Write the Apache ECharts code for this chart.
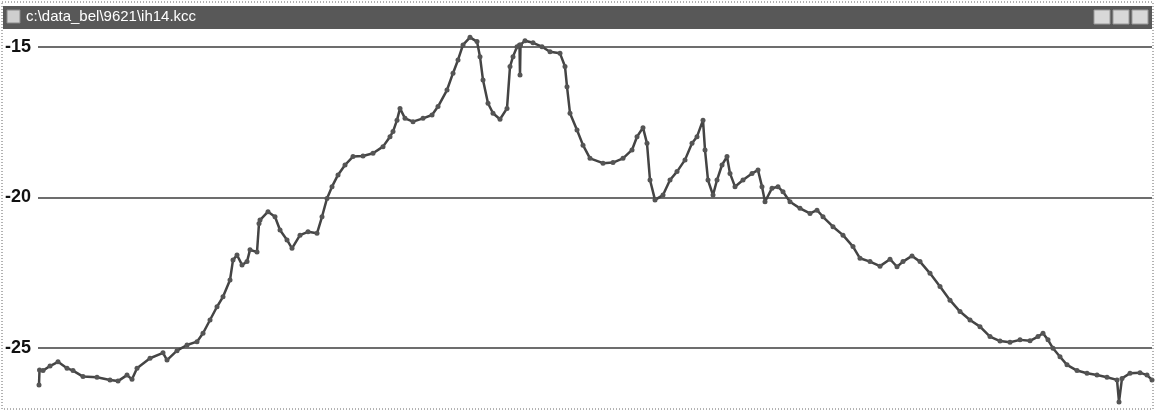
<!DOCTYPE html>
<html>
<head>
<meta charset="utf-8">
<script src="https://cdn.jsdelivr.net/npm/echarts@6/dist/echarts.min.js"></script>
<style>
  html, body { margin: 0; padding: 0; background: #fff; }
  #main { width: 1156px; height: 412px; }
</style>
</head>
<body>
<div id="main"></div>
<script>
// window caption and y tick labels
const windowTitle = 'c:\\data_bel\\9621\\ih14.kcc';
const yTicks = [-15, -20, -25];

// position along the profile (arbitrary units) and measured value
const pos = [
  1, 1.5, 5, 12, 20, 29, 35, 45, 59, 72, 80, 89, 94, 99, 112, 125, 129, 139, 149, 159,
  165, 172, 179, 185, 192, 195, 199, 204, 209, 212, 219, 221, 222, 230, 237, 242, 249, 254, 262, 270,
  279, 284, 289, 294, 300, 307, 315, 325, 335, 345, 352, 355, 359, 362, 367, 375, 385, 394, 400, 409,
  415, 420, 425, 432, 439, 442, 445, 450, 455, 462, 469, 472, 475, 479, 481.5, 482, 482.5, 487, 495, 504,
  512, 522, 527, 529, 532, 539, 545, 552, 565, 575, 585, 594, 599, 605, 609, 612, 617, 625, 632, 639,
  647, 654, 659, 665, 667, 670, 675, 679, 684, 689, 692, 697, 705, 714, 720, 724, 727, 734, 740, 745,
  752, 762, 772, 779, 785, 795, 805, 815, 822, 832, 842, 852, 859, 865, 874, 882, 892, 902, 912, 922,
  932, 942, 952, 962, 972, 982, 992, 1000, 1005, 1010, 1015, 1022, 1029, 1039, 1049, 1059, 1069, 1079, 1081, 1084,
  1092, 1102, 1109, 1114
];
const level = [
  -26.23, -25.73, -25.75, -25.60, -25.46, -25.67, -25.75, -25.95, -25.97, -26.06, -26.10, -25.90, -26.04, -25.67, -25.34, -25.16, -25.40, -25.09, -24.90, -24.79,
  -24.51, -24.07, -23.63, -23.30, -22.74, -22.08, -21.91, -22.24, -22.13, -21.74, -21.81, -20.86, -20.75, -20.47, -20.64, -21.08, -21.41, -21.69, -21.25, -21.14,
  -21.19, -20.64, -20.03, -19.64, -19.25, -18.92, -18.64, -18.62, -18.53, -18.31, -17.98, -17.81, -17.43, -17.04, -17.37, -17.48, -17.37, -17.26, -16.98, -16.43,
  -15.87, -15.43, -14.93, -14.68, -14.82, -15.32, -16.10, -16.87, -17.20, -17.40, -17.04, -15.65, -15.32, -14.99, -14.93, -15.93, -14.93, -14.79, -14.86, -14.99,
  -15.16, -15.21, -15.65, -16.32, -17.20, -17.76, -18.26, -18.70, -18.86, -18.84, -18.70, -18.42, -17.98, -17.68, -18.20, -19.42, -20.08, -19.92, -19.42, -19.14,
  -18.75, -18.20, -17.98, -17.43, -18.42, -19.42, -19.92, -19.42, -18.92, -18.64, -19.20, -19.64, -19.42, -19.20, -19.09, -19.64, -20.14, -19.69, -19.64, -19.81,
  -20.14, -20.36, -20.53, -20.42, -20.64, -20.97, -21.25, -21.63, -22.02, -22.13, -22.28, -22.05, -22.30, -22.13, -21.94, -22.13, -22.52, -22.96, -23.41, -23.79,
  -24.07, -24.29, -24.62, -24.77, -24.81, -24.73, -24.76, -24.62, -24.51, -24.73, -25.01, -25.29, -25.56, -25.75, -25.84, -25.90, -25.97, -26.06, -26.79, -26.01,
  -25.84, -25.82, -25.90, -26.06
];

const chart = echarts.init(document.getElementById('main'));
const option = {
  backgroundColor: '#fff',
  animation: false,
  grid: { left: 38, right: 4, top: 47, bottom: 64 },
  xAxis: {
    type: 'value',
    min: 0,
    max: 1114,
    show: false
  },
  yAxis: {
    type: 'value',
    min: yTicks[2],
    max: yTicks[0],
    interval: 5,
    axisLine: { show: false },
    axisTick: { show: false },
    axisLabel: {
      margin: 7,
      color: '#111',
      fontFamily: 'Liberation Sans Narrow, Liberation Sans',
      fontSize: 18,
      fontWeight: 'bold'
    },
    splitLine: { lineStyle: { color: '#3c3c3c', width: 1.5 } }
  },
  graphic: [
    // dotted window frame
    { type: 'rect', shape: { x: 2, y: 2, width: 1151, height: 407 },
      style: { fill: 'none', stroke: '#666', lineWidth: 1, lineDash: [1, 2] }, z: 10 },
    // caption bar
    { type: 'rect', shape: { x: 3, y: 6, width: 1149, height: 23 },
      style: { fill: '#585858' }, z: 5 },
    { type: 'rect', shape: { x: 7, y: 10, width: 13, height: 13 },
      style: { fill: '#cfcfcf', stroke: '#888', lineWidth: 1 }, z: 6 },
    { type: 'text', x: 26, y: 9,
      style: { text: windowTitle, fill: '#fff', font: '15px "Liberation Sans"' }, z: 6 },
    { type: 'rect', shape: { x: 1094, y: 10, width: 16, height: 14 },
      style: { fill: '#d8d8d8', stroke: '#999', lineWidth: 1 }, z: 6 },
    { type: 'rect', shape: { x: 1113, y: 10, width: 16, height: 14 },
      style: { fill: '#d8d8d8', stroke: '#999', lineWidth: 1 }, z: 6 },
    { type: 'rect', shape: { x: 1132, y: 10, width: 16, height: 14 },
      style: { fill: '#d8d8d8', stroke: '#999', lineWidth: 1 }, z: 6 }
  ],
  series: [
    {
      type: 'line',
      clip: false,
      data: pos.map((p, i) => [p, level[i]]),
      symbol: 'circle',
      symbolSize: 5,
      showAllSymbol: true,
      lineStyle: { color: '#444', width: 2.5 },
      itemStyle: { color: '#555' }
    }
  ]
};
chart.setOption(option);
</script>
</body>
</html>
